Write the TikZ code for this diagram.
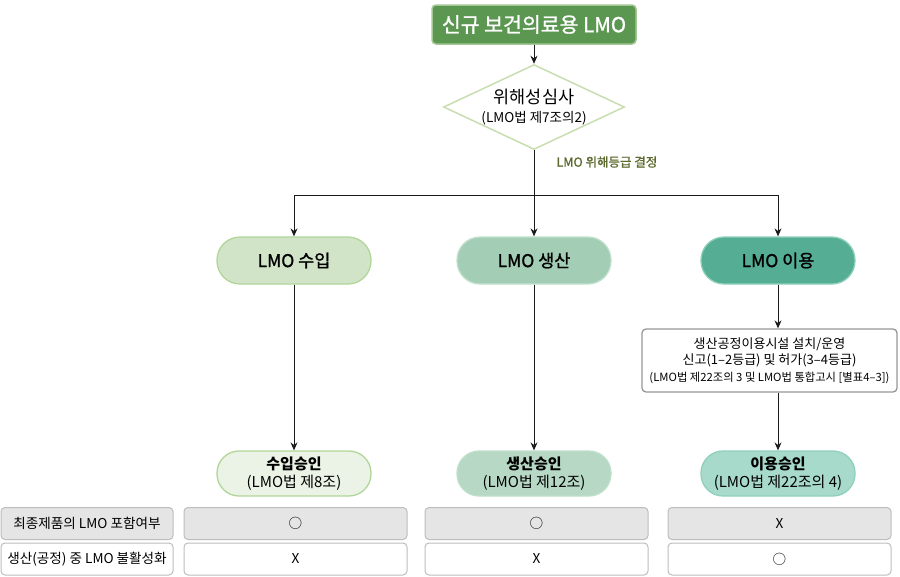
\documentclass[tikz,border=0pt]{standalone}
\usepackage{fontspec}
\setmainfont{Noto Sans CJK KR}
\newfontfamily\medf[FakeBold=1.2]{Noto Sans CJK KR}
\usetikzlibrary{shapes.geometric,arrows.meta}
\definecolor{titlefill}{HTML}{5C9752}
\definecolor{titledraw}{HTML}{A3C795}
\definecolor{dia}{HTML}{C9DDB0}
\definecolor{impfill}{HTML}{D2E4C8}
\definecolor{impdraw}{HTML}{B0D699}
\definecolor{prodfill}{HTML}{A3CDB5}
\definecolor{proddraw}{HTML}{BFE0CB}
\definecolor{usefill}{HTML}{55AE94}
\definecolor{usedraw}{HTML}{8FD0BC}
\definecolor{aimpfill}{HTML}{EAF3E6}
\definecolor{aprodfill}{HTML}{B6D8C5}
\definecolor{ausefill}{HTML}{A7DACA}
\definecolor{labelgreen}{HTML}{5E6B30}
\definecolor{tabfill}{HTML}{E5E5E5}
\definecolor{tabdraw}{HTML}{BDBDBD}
\definecolor{linec}{HTML}{1A1A1A}
\tikzset{
  pill/.style={draw, line width=1.3pt, rounded corners=23pt, minimum width=154pt, minimum height=47pt, inner sep=0pt, align=center, text=black},
  conn/.style={draw=linec, line width=1pt},
  arr/.style={conn, -{Stealth[length=8pt,width=7pt]}},
  cell/.style={draw=tabdraw, line width=1pt, rounded corners=4pt, inner sep=0pt, minimum height=32pt, font=\fontsize{13.6}{16}\selectfont},
}
\begin{document}
\begin{tikzpicture}[x=1pt,y=-1pt]
\useasboundingbox (0,0) rectangle (900,576);
\node[draw=titledraw, fill=titlefill, line width=1.5pt, rounded corners=4pt, minimum width=204pt, minimum height=39pt, inner sep=0pt, text=white, font=\medf\fontsize{20.5}{24}\selectfont] (title) at (534,24.5) {신규 보건의료용 LMO};
\node[diamond, aspect=2.13, draw=dia, fill=white, line width=1.5pt, minimum width=177pt, minimum height=83pt, inner sep=0pt, align=center, font=\fontsize{13.5}{18.5}\selectfont] (dia) at (534,107)
 {{\fontsize{17.5}{18.5}\selectfont 위해성심사}\\(LMO법 제7조의2)};
\node[pill, draw=impdraw, fill=impfill, font=\medf\fontsize{17.5}{20}\selectfont] (imp) at (294,260.5) {LMO 수입};
\node[pill, draw=proddraw, fill=prodfill, font=\medf\fontsize{17.5}{20}\selectfont] (prod) at (534,260.5) {LMO 생산};
\node[pill, draw=usedraw, fill=usefill, font=\medf\fontsize{17.5}{20}\selectfont] (use) at (778,260.5) {LMO 이용};
\node[draw=tabdraw!80!black, line width=1.3pt, rounded corners=4pt, minimum width=255pt, minimum height=63pt, inner sep=0pt, align=center, fill=white, font=\fontsize{13}{16.5}\selectfont] (fac) at (769.5,360.5)
 {생산공정이용시설 설치/운영\\신고(1–2등급) 및 허가(3–4등급)\\{\fontsize{11.3}{16.5}\selectfont (LMO법 제22조의 3 및 LMO법 통합고시 [별표4–3])}};
\node[pill, draw=impdraw, fill=aimpfill, minimum height=45pt, rounded corners=22pt, font=\fontsize{15}{18}\selectfont] (aimp) at (294,473.5) {\textbf{수입승인}\\(LMO법 제8조)};
\node[pill, draw=proddraw, fill=aprodfill, minimum height=45pt, rounded corners=22pt, font=\fontsize{15}{18}\selectfont] (aprod) at (534,473.5) {\textbf{생산승인}\\(LMO법 제12조)};
\node[pill, draw=usedraw, fill=ausefill, minimum height=45pt, rounded corners=22pt, font=\fontsize{15}{18}\selectfont] (ause) at (778,473.5) {\textbf{이용승인}\\(LMO법 제22조의 4)};
\coordinate (j) at (534,195);
\draw[arr] (title) -- (dia);
\draw[conn] (dia.south) -- (j);
\draw[arr] (j) -| (imp.north);
\draw[arr] (j) -- (prod.north);
\draw[arr] (j) -| (use.north);
\node[anchor=west, text=labelgreen, font=\medf\fontsize{12.5}{14}\selectfont] (lab) at (553,162) {LMO 위해등급 결정};
\draw[arr] (imp) -- (aimp);
\draw[arr] (prod) -- (aprod);
\draw[arr] (use) -- (use |- fac.north);
\draw[arr] (fac.south -| ause) -- (ause);
% table
\node[cell, fill=tabfill, minimum width=172pt] (r1c0) at (87,523.5) {최종제품의 LMO 포함여부};
\node[cell, fill=tabfill, minimum width=223pt] (r1c1) at (295.5,523.5) {○};
\node[cell, fill=tabfill, minimum width=223pt] (r1c2) at (536.5,523.5) {○};
\node[cell, fill=tabfill, minimum width=223pt] (r1c3) at (779.5,523.5) {X};
\node[cell, fill=white, minimum width=172pt] (r2c0) at (87,559) {생산(공정) 중 LMO 불활성화};
\node[cell, fill=white, minimum width=223pt] (r2c1) at (295.5,559) {X};
\node[cell, fill=white, minimum width=223pt] (r2c2) at (536.5,559) {X};
\node[cell, fill=white, minimum width=223pt] (r2c3) at (779.5,559) {○};
\end{tikzpicture}
\end{document}
